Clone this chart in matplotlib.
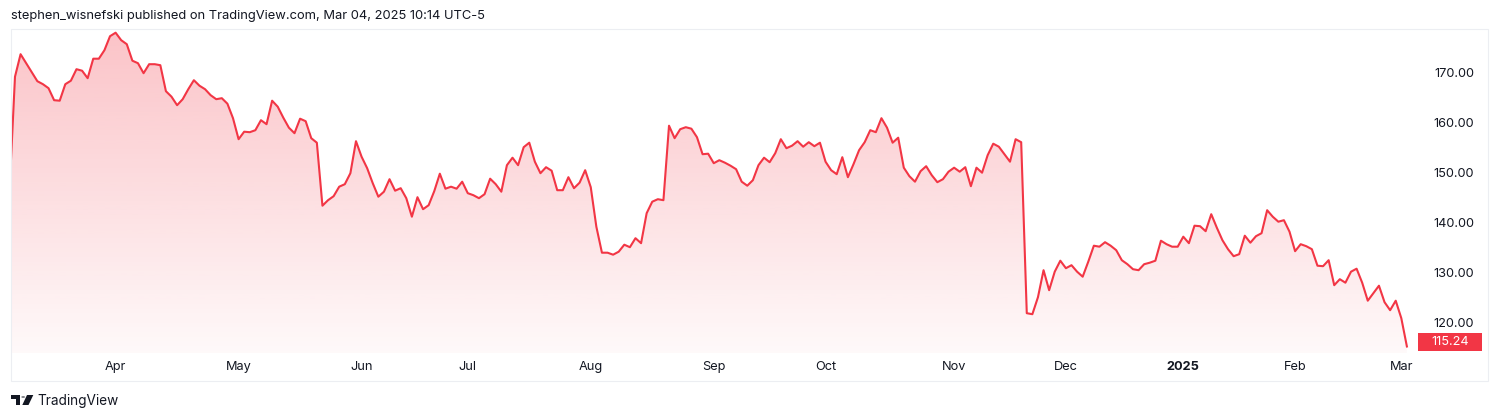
"""
Cotización diaria estilo TradingView (mar 2024 - mar 2025)
"""
import numpy as np
import pandas as pd
import matplotlib
matplotlib.use('Agg')
import matplotlib.pyplot as plt
from matplotlib.patches import Rectangle, Circle, Polygon
from matplotlib.colors import to_rgb

plt.rcParams['font.family'] = ['Inter', 'DejaVu Sans']

ROJO = '#F23645'
TEXTO = '#131722'
BORDE = '#eceef2'

# Días sin mercado (NYSE) en el periodo
FERIADOS = ['2024-03-29', '2024-05-27', '2024-06-19', '2024-07-04', '2024-09-02',
            '2024-11-28', '2024-12-25', '2025-01-01', '2025-01-09', '2025-01-20',
            '2025-02-17']

# Precio de cierre por sesión
PRECIOS = [
    146.0, 169.2, 173.7, 171.9, 170.1, 168.3, 167.7, 166.9, 164.5, 164.4,
    167.7, 168.4, 170.7, 170.4, 168.9, 172.8, 172.8, 174.5, 177.3, 178.0,
    176.5, 175.7, 172.4, 171.9, 169.9, 171.7, 171.7, 171.5, 166.3, 165.2,
    163.5, 164.7, 166.7, 168.5, 167.4, 166.7, 165.5, 164.7, 164.9, 163.8,
    160.9, 156.7, 158.2, 158.1, 158.5, 160.5, 159.7, 164.4, 163.2, 161.0,
    159.0, 157.9,
    160.8, 160.3, 156.9, 156.0, 143.4, 144.5, 145.3, 147.2, 147.7, 149.9,
    156.3, 153.2, 150.9, 147.9, 145.2, 146.2, 148.7, 146.4, 146.9, 144.9,
    141.2, 145.1, 142.7, 143.5, 146.3, 149.8, 146.8, 147.2, 146.8, 148.2,
    145.9, 145.5, 144.9, 145.7, 148.8, 147.7, 146.2, 151.5, 153.0, 151.5,
    155.1, 156.0, 152.2, 149.9, 151.1, 150.4, 146.5, 146.5, 149.1, 146.9,
    148.0,
    150.5, 147.1, 139.2, 134.0, 134.0, 133.6, 134.2, 135.6, 135.1, 136.9,
    135.9, 141.9, 144.2, 144.7, 144.5, 159.4, 156.9, 158.7, 159.1, 158.8,
    157.1, 153.7, 153.8, 151.9, 152.5, 152.0, 151.4, 150.7, 148.2, 147.4,
    148.5, 151.5, 153.0, 152.1, 153.9, 156.7, 154.9, 155.4, 156.3, 155.2,
    156.1, 155.3, 156.0, 152.2, 150.5, 149.7, 153.1, 149.1, 151.7, 154.5,
    156.1,
    158.5, 158.1, 160.9, 159.0, 156.0, 157.0, 151.0, 149.3, 148.2, 150.3,
    151.3, 149.5, 148.1, 148.7, 150.2, 151.0, 150.2, 151.1, 147.3, 151.0,
    150.0, 153.5, 155.8, 155.2, 153.7, 152.2, 156.7, 156.1, 121.9, 121.7,
    125.1, 130.5, 126.5, 130.2, 132.4, 130.9, 131.5, 130.2, 129.2, 132.2,
    135.4, 135.2, 136.1, 135.4, 134.5, 132.5, 131.7, 130.7, 130.5, 131.7,
    132.0,
    132.4, 136.4, 135.7, 135.2, 135.2, 137.2, 135.9, 139.4, 139.3, 138.3,
    141.7, 139.0, 136.5, 134.7, 133.3, 133.7, 137.4, 136.0, 137.3, 137.9,
    142.5, 141.2, 140.2, 140.5, 138.2, 134.3, 135.7, 135.3, 134.7, 131.4,
    131.3, 132.5, 127.5, 128.7, 128.0, 130.2, 130.8, 128.0, 124.4, 125.9,
    127.4, 124.1, 122.5, 124.4, 120.9, 115.24,
]

NIVELES = [120, 130, 140, 150, 160, 170]
ETIQ_MES = ['Apr', 'May', 'Jun', 'Jul', 'Aug', 'Sep', 'Oct', 'Nov', 'Dec', '2025', 'Feb', 'Mar']

fechas = pd.bdate_range('2024-03-04', '2025-03-04', freq='C', holidays=FERIADOS)
fechas = fechas[-len(PRECIOS):]
x = np.arange(len(PRECIOS))
inicio_mes = [i for i in range(1, len(fechas)) if fechas[i].month != fechas[i - 1].month]

W, H = 1500, 420
fig = plt.figure(figsize=(W / 100, H / 100), dpi=100)
fig.patch.set_facecolor('white')

def fx(p): return p / W
def fy(p): return 1 - p / H

# panel: x 11..1430 px, y 29..353 px
ax = fig.add_axes([fx(11), fy(353), fx(1430 - 11), (353 - 29) / H])
paso, x0px = 5.59, 9.4
xlim = ((11 - x0px) / paso, (1430 - x0px) / paso)
ylim = (113.94, 178.74)

ax.plot(x, PRECIOS, color=ROJO, lw=1.5, solid_joinstyle='round', zorder=3)

# relleno con degradado
area = ax.fill_between(x, PRECIOS, ylim[0], color='none', lw=0)
n = 256
grad = np.zeros((n, 1, 4))
grad[..., :3] = to_rgb(ROJO)
grad[:, 0, 3] = np.linspace(0.30, 0.03, n)
im = ax.imshow(grad, aspect='auto', extent=[xlim[0], xlim[1], ylim[0], ylim[1]],
               origin='upper', zorder=2, interpolation='bilinear')
im.set_clip_path(area.get_paths()[0], transform=ax.transData)

ax.set_xlim(*xlim)
ax.set_ylim(*ylim)
for s in ax.spines.values():
    s.set_visible(False)
ax.set_facecolor('none')

ax.yaxis.tick_right()
ax.set_yticks(NIVELES)
ax.set_yticklabels([f'{v:.2f}' for v in NIVELES])
ax.tick_params(axis='y', length=0, pad=31.7, labelsize=9.2, labelcolor=TEXTO)
for lab in ax.get_yticklabels():
    lab.set_horizontalalignment('right')

ax.set_xticks(inicio_mes)
ax.set_xticklabels(ETIQ_MES)
ax.tick_params(axis='x', length=0, pad=6, labelsize=9.2, labelcolor=TEXTO)
for lab in ax.get_xticklabels():
    if lab.get_text() == '2025':
        lab.set_fontweight('bold')

# etiqueta del último precio
ult = PRECIOS[-1]
y_ult = 29 + (ylim[1] - ult) / (ylim[1] - ylim[0]) * (353 - 29)
y_ult = min(y_ult, 342)
fig.add_artist(Rectangle((fx(1418), fy(y_ult + 9)), fx(64), 18 / H,
                         transform=fig.transFigure, facecolor=ROJO, edgecolor='none'))
fig.text(fx(1450), fy(y_ult), f'{ult:.2f}', ha='center', va='center',
         fontsize=9.2, color='white')

# marco
fig.add_artist(Rectangle((fx(10.7), fy(381)), fx(1488 - 10.7), (381 - 29) / H,
                         transform=fig.transFigure, facecolor='none', edgecolor=BORDE, lw=0.8))

fig.text(fx(11), fy(16), 'stephen_wisnefski published on TradingView.com, Mar 04, 2025 10:14 UTC-5',
         ha='left', va='center', fontsize=9.3, color=TEXTO)

# logo
fig.add_artist(Polygon([(fx(11), fy(395)), (fx(19.5), fy(395)), (fx(19.5), fy(405)),
                        (fx(16), fy(405)), (fx(16), fy(398.5)), (fx(11), fy(398.5))],
                       closed=True, transform=fig.transFigure, facecolor=TEXTO, edgecolor='none'))
fig.add_artist(Circle((fx(23.2), fy(397)), 1.9 / W, transform=fig.transFigure,
                      facecolor=TEXTO, edgecolor='none'))
fig.add_artist(Polygon([(fx(27), fy(395)), (fx(33.3), fy(395)), (fx(28.5), fy(405)), (fx(22.3), fy(405))],
                       closed=True, transform=fig.transFigure, facecolor=TEXTO, edgecolor='none'))
fig.text(fx(37), fy(401), 'TradingView', ha='left', va='center', fontsize=9.8, color=TEXTO)

fig.savefig('out.png', dpi=100, facecolor='white')
